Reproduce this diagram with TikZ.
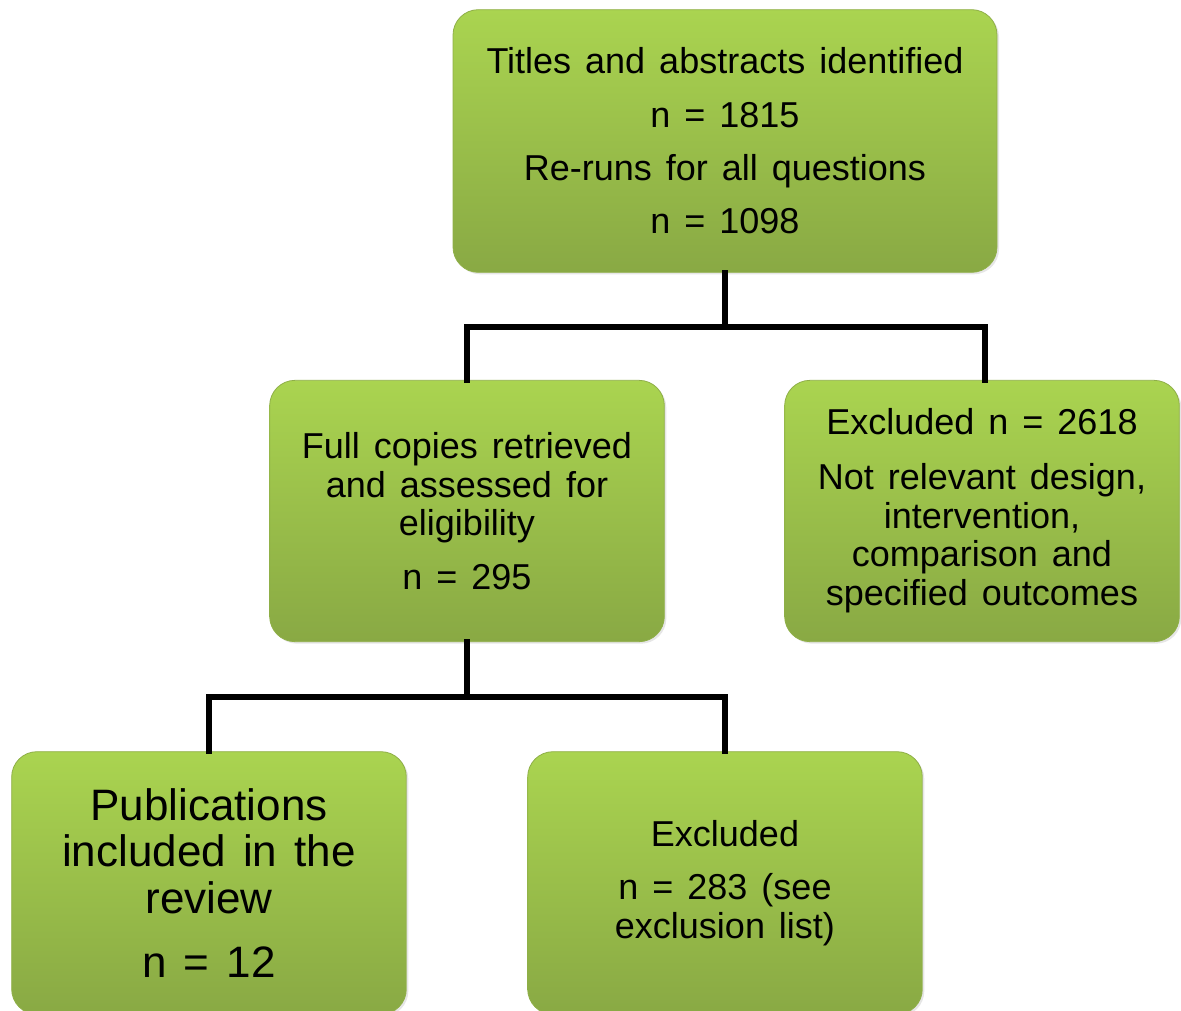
\documentclass[tikz,border=0pt]{standalone}
\usepackage{fontspec}
\setmainfont{Liberation Sans}[WordSpace=1.4]
\usetikzlibrary{shadows}
\definecolor{boxtop}{HTML}{AAD450}
\definecolor{boxbot}{HTML}{89A944}
\definecolor{boxrim}{HTML}{8FAF48}
\tikzset{
  stagebox/.style={rounded corners=19pt, draw=boxrim, line width=0.6pt,
    top color=boxtop, bottom color=boxbot, inner sep=0pt, align=center,
    font=\fontsize{27}{29}\selectfont,
    drop shadow={opacity=0.2, shadow xshift=1.5pt, shadow yshift=-1.5pt}},
  link/.style={line width=4.5pt, line cap=rect}
}
\begin{document}
\begin{tikzpicture}[x=0.75pt,y=0.75pt,yscale=-1]
\useasboundingbox (0,0) rectangle (1181,1010);

% Boxes
\node [stagebox, minimum width=408pt, minimum height=197pt] (titles) at (725,141)
  {Titles and abstracts identified\\[11pt] n = 1815\\[11pt] Re-runs for all questions\\[11pt] n = 1098};
\node [stagebox, minimum width=296pt, minimum height=196pt] (full) at (467,511)
  {Full copies retrieved\\ and assessed for\\ eligibility\\[11pt] n = 295};
\node [stagebox, minimum width=296pt, minimum height=196pt] (exclA) at (982,511)
  {Excluded n = 2618\\[12pt] Not relevant design,\\ intervention,\\ comparison and\\ specified outcomes};
\node [stagebox, minimum width=296pt, minimum height=197pt, font=\fontsize{33}{35}\selectfont] (incl) at (209,883)
  {Publications\\ included in the\\ review\\[13pt] n = 12};
\node [stagebox, minimum width=296pt, minimum height=197pt] (exclB) at (725,883)
  {Excluded\\[11pt] n = 283 (see\\ exclusion list)};

% Connectors
\coordinate (j1) at (725,327);
\coordinate (j2) at (467,697);
\draw [link] (titles.south) -- (j1);
\draw [link] (full.north) |- (j1) -| ([xshift=2pt]exclA.north);
\draw [link] (full.south) -- (j2);
\draw [link] (incl.north) |- (j2) -| (exclB.north);

\end{tikzpicture}
\end{document}
